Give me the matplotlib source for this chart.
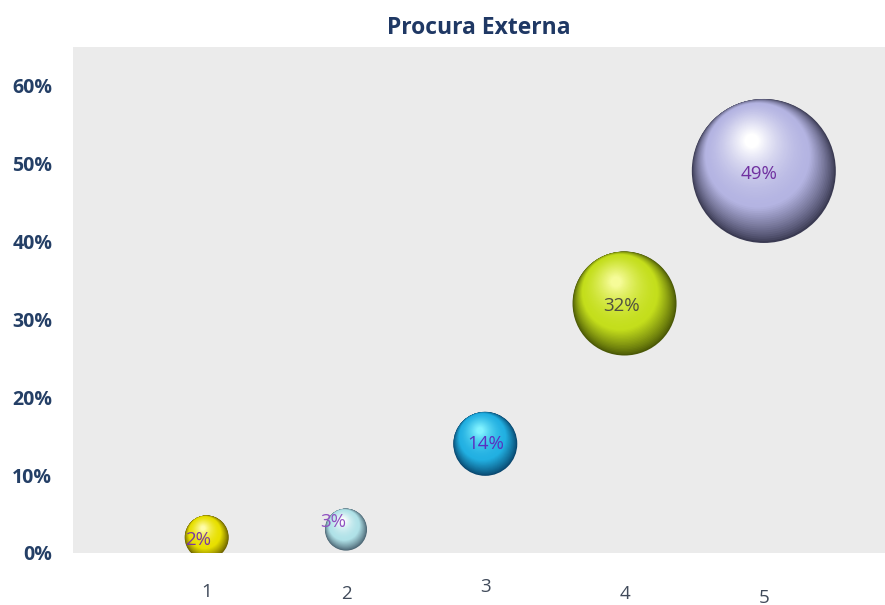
import numpy as np
import matplotlib.pyplot as plt
from matplotlib.colors import to_rgb
from matplotlib.transforms import ScaledTranslation

# data
categories = [1, 2, 3, 4, 5]
values = [0.02, 0.03, 0.14, 0.32, 0.49]
labels = ['2%', '3%', '14%', '32%', '49%']
bubble_r = [22, 21, 32, 52, 72]          # bubble radius, pixels
base_cols = ['#e8e000', '#b0e2e8', '#22b0e2', '#c4de1c', '#b4b4e2']
dark_cols = ['#6a6000', '#4a6472', '#08466e', '#4a5806', '#3a3a52']
light_cols = ['#fffca8', '#ffffff', '#80f2ff', '#f6fc98', '#ffffff']
label_cols = ['#7a3aa0', '#9050c0', '#5a30c0', '#505040', '#7030a0']
label_dx = [-9, -13, 0, -3, -5]      # pixels
label_dy = [-3, 8, 0, -2, -3]
xlab_dy = [0, -2, 5, -2, -6]

plt.rcParams['font.family'] = ['Open Sans', 'DejaVu Sans']

fig = plt.figure(figsize=(8.85, 6.05), dpi=100)
ax = fig.add_axes([73 / 885, 1 - 553 / 605, 1 - 73 / 885, (553 - 47) / 605])
ax.set_facecolor('#ebebeb')
ax.set_xlim(0.04, 5.87)
ax.set_ylim(0, 0.649)
for s in ax.spines.values():
    s.set_visible(False)

px = 72.0 / fig.dpi  # points per pixel
d = np.array([-0.4, 1.0])
d = d / np.hypot(*d)

# shaded spheres: layered discs, dark crescent lower right, highlight upper left
n = 60
for i in range(len(categories)):
    r = bubble_r[i]
    dk = np.array(to_rgb(dark_cols[i]))
    bs = np.array(to_rgb(base_cols[i]))
    lt = np.array(to_rgb(light_cols[i]))
    for k in range(n):
        t = k / (n - 1)
        rr = r * (1 - 0.9 * t)
        if t < 0.3:
            c = dk + (bs - dk) * (t / 0.3) ** 0.8
        else:
            c = bs + (lt - bs) * ((t - 0.3) / 0.7) ** 1.6
        off = (r - rr) * (1.0 - 0.5 * t)
        tr = ax.transData + ScaledTranslation(off * d[0] / fig.dpi, off * d[1] / fig.dpi,
                                              fig.dpi_scale_trans)
        ax.scatter([categories[i]], [values[i]], s=(2 * rr * px) ** 2,
                   color=c, edgecolors='none', transform=tr, zorder=2 + k * 0.01)
    ax.annotate(labels[i], (categories[i], values[i]),
                xytext=(label_dx[i] * px, label_dy[i] * px), textcoords='offset points',
                ha='center', va='center', fontsize=13.5, color=label_cols[i], zorder=5)

ax.set_yticks(np.arange(0, 0.61, 0.1))
ax.set_yticklabels(['%d%%' % round(v * 100) for v in np.arange(0, 0.61, 0.1)],
                   fontsize=14, fontweight='bold', color='#243f66')
ax.tick_params(axis='y', length=0, pad=15)
ax.set_xticks([])
for i, c in enumerate(categories):
    ax.text(c, -0.038 + xlab_dy[i] / 780, str(c), transform=ax.transData,
            ha='center', va='top', fontsize=13.5, color='#404a5a', clip_on=False)

fig.text(0.5415, 0.953, 'Procura Externa', ha='center', va='center',
         fontsize=16.5, fontweight='bold', color='#1f3864')

fig.savefig('out.png', dpi=100)
